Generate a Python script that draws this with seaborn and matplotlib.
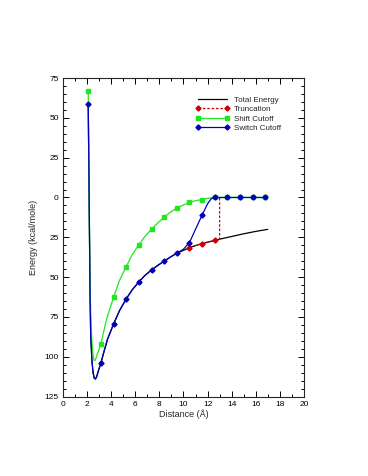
import matplotlib
matplotlib.use("Agg")
import matplotlib.pyplot as plt
from matplotlib.lines import Line2D
from matplotlib.ticker import MultipleLocator, FixedLocator, FixedFormatter
import seaborn as sns
import pandas as pd

# Total energy curve (kcal/mole vs distance in Angstrom)
total_x = [2.10, 2.15, 2.20, 2.25, 2.30, 2.40, 2.50, 2.60, 2.70, 2.80, 2.90, 3.00,
           3.15, 3.40, 3.70, 4.20, 4.70, 5.25, 5.75, 6.30, 6.80, 7.35, 7.90, 8.40,
           8.90, 9.45, 10.00, 10.50, 11.00, 11.55, 12.00, 12.60, 13.00, 14.00,
           15.00, 16.00, 17.00]
total_y = [58.5, 20, -20, -60, -85, -102, -110, -113.5, -114, -112.5, -110, -107.5,
           -104, -97, -89, -79.5, -71, -63.7, -58, -53, -49, -45.5, -42.5, -40,
           -37.5, -35, -33.2, -31.5, -30.2, -29, -28.1, -27, -26.2, -24.5,
           -22.8, -21.3, -20]

# Truncation: follows total energy, then jumps to zero at 13 A
trunc_x = [10.50, 11.00, 11.55, 12.00, 12.60, 13.00, 13.00]
trunc_y = [-31.5, -30.2, -29, -28.1, -27, -26.2, 0]

# Shift cutoff curve
shift_x = [2.10, 2.12, 2.17, 2.22, 2.30, 2.40, 2.50, 2.60, 2.70, 2.85, 3.15, 3.60,
           4.20, 4.70, 5.25, 5.75, 6.30, 6.80, 7.35, 7.90, 8.40, 8.90, 9.45, 10.00,
           10.50, 11.00, 11.55, 12.10, 12.60, 16.80]
shift_y = [67, 40, 0, -40, -72, -90, -99, -102.5, -102, -98.5, -92, -77,
           -62.7, -52, -43.4, -36, -29.6, -24.5, -19.9, -15.8, -12.4, -9.3, -6.7, -4.7,
           -3.1, -2.0, -1.3, -0.4, 0, 0]

# Switch cutoff curve
switch_x = [2.10, 2.15, 2.20, 2.25, 2.30, 2.40, 2.50, 2.60, 2.70, 2.80, 2.90, 3.00,
            3.15, 3.40, 3.70, 4.20, 4.70, 5.25, 5.75, 6.30, 6.80, 7.35, 7.90, 8.40,
            8.90, 9.45, 10.00, 10.50, 11.00, 11.55, 12.00, 12.30, 12.60, 16.80]
switch_y = [58.5, 20, -20, -60, -85, -102, -110, -113.5, -114, -112.5, -110, -107.5,
            -104, -97, -89, -79.5, -71, -63.7, -58, -53, -49, -45.5, -42.5, -40,
            -37.5, -35, -32.5, -28.3, -20, -11, -4, -0.8, 0, 0]

# Sampled points (markers)
mark_x = [2.10, 3.15, 4.20, 5.25, 6.30, 7.35, 8.40, 9.45, 10.50, 11.55, 12.60,
          13.65, 14.70, 15.75, 16.80]
shift_mark_y = [67, -92, -62.7, -43.4, -29.6, -19.9, -12.4, -6.7, -3.1, -1.3, 0,
                0, 0, 0, 0]
switch_mark_y = [58.5, -104, -79.5, -63.7, -53, -45.5, -40, -35, -28.3, -11, 0,
                 0, 0, 0, 0]
trunc_mark_x = [10.50, 11.55, 12.60]
trunc_mark_y = [-31.5, -29, -27]

y_ticks = [75, 50, 25, 0, -25, -50, -75, -100, -125]
y_tick_labels = ["75", "50", "25", "0", "25", "50", "75", "100", "125"]

sns.set_style("ticks")
plt.rcParams["font.family"] = ["Liberation Sans", "DejaVu Sans"]

fig = plt.figure(figsize=(3.68, 4.76), dpi=100)
ax = fig.add_axes([0.171, 0.167, 0.655, 0.669])

black = "#000000"
red = "#cc0000"
green = "#22e622"
blue = "#0000bb"
lw = 0.9
ms = 2.6

sns.lineplot(x=total_x, y=total_y, ax=ax, color=black, lw=lw, sort=False, estimator=None)
sns.lineplot(x=trunc_x, y=trunc_y, ax=ax, color=red, lw=lw, sort=False, estimator=None,
             linestyle=(0, (2, 1.5)))
ax.plot(trunc_mark_x, trunc_mark_y, ls="none", marker="D", ms=ms, color=red)
sns.lineplot(x=shift_x, y=shift_y, ax=ax, color=green, lw=lw, sort=False, estimator=None)
ax.plot(mark_x, shift_mark_y, ls="none", marker="s", ms=ms, color=green)
sns.lineplot(x=switch_x, y=switch_y, ax=ax, color=blue, lw=lw, sort=False, estimator=None)
ax.plot(mark_x, switch_mark_y, ls="none", marker="D", ms=ms, color=blue)

ax.set_xlim(0, 20)
ax.set_ylim(-125, 75)
ax.xaxis.set_major_locator(MultipleLocator(2))
ax.xaxis.set_minor_locator(MultipleLocator(1))
ax.yaxis.set_major_locator(FixedLocator(y_ticks))
ax.yaxis.set_major_formatter(FixedFormatter(y_tick_labels))
ax.yaxis.set_minor_locator(MultipleLocator(5))
ax.tick_params(which="both", direction="in", top=True, right=True, labelsize=6,
               width=0.7, colors=black)
ax.tick_params(which="major", length=4, pad=3)
ax.tick_params(which="minor", length=2)
for s in ax.spines.values():
    s.set_linewidth(0.8)

ax.set_xlabel("Distance (\u00c5)", fontsize=6.5, labelpad=1)
ax.set_ylabel("Energy (kcal/mole)", fontsize=6.5, labelpad=5)

handles = [
    Line2D([], [], color=black, lw=lw),
    Line2D([], [], color=red, lw=lw, ls=(0, (2, 1.5)), marker="D", ms=ms),
    Line2D([], [], color=green, lw=lw, marker="s", ms=ms),
    Line2D([], [], color=blue, lw=lw, marker="D", ms=ms),
]
labels = ["Total Energy", "Truncation", "Shift Cutoff", "Switch Cutoff"]
ax.legend(handles, labels, loc="upper left", bbox_to_anchor=(0.535, 0.955), frameon=False,
          fontsize=5.8, numpoints=2, handlelength=4.2, handletextpad=0.5,
          labelspacing=0.2, borderpad=0)

fig.savefig("out.png", dpi=100)
